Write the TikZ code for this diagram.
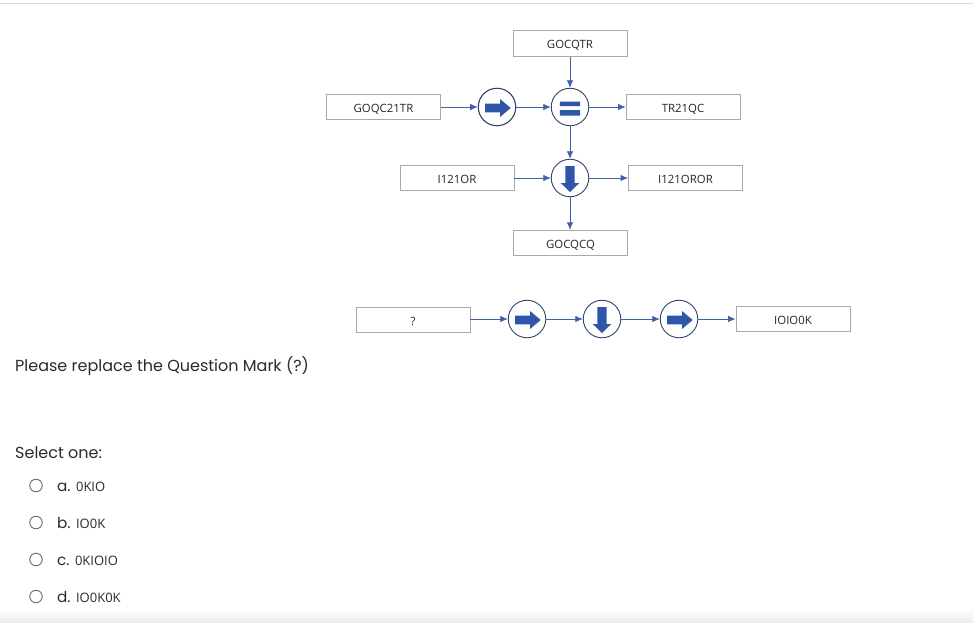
\documentclass[tikz,border=0pt]{standalone}
\usepackage{fontspec}
\setmainfont{Poppins}
\newfontfamily\boxfont{Open Sans}
\usetikzlibrary{arrows.meta}
\definecolor{flow}{HTML}{3F62A8}
\definecolor{icon}{HTML}{2F55A8}
\definecolor{boxline}{HTML}{A9A9A9}
\definecolor{ringline}{HTML}{2F4468}
\definecolor{qtext}{HTML}{2B2B2B}
\tikzset{
  x=1pt,y=-1pt,
  labelbox/.style={draw=boxline,line width=0.7pt,fill=white,minimum width=114pt,minimum height=25.5pt,inner sep=0pt,text height=10.5pt,text depth=0pt,text=black!85,font=\boxfont\fontsize{11.4pt}{13pt}\selectfont},
  ring/.style={circle,draw=ringline,line width=0.9pt,fill=white,minimum size=37.5pt,inner sep=0pt},
  flowline/.style={draw=flow,line width=0.8pt,-{Latex[length=7.5pt,width=6.5pt]}},
  iconfill/.style={fill=icon,draw=none},
  qline/.style={anchor=base west,inner sep=0pt,text=qtext,font=\fontsize{16pt}{19pt}\selectfont},
  optlabel/.style={anchor=base west,inner sep=0pt,text=qtext,font=\fontsize{15.2pt}{18pt}\selectfont},
  radio/.style={circle,draw=black!55,line width=1pt,fill=white,minimum size=12.5pt,inner sep=0pt}
}
\newcommand{\rightsign}[1]{\fill[iconfill,shift={(#1)}] (-12,-3.4) -- (3,-3.4) -- (3,-8) -- (13.7,1) -- (3,10) -- (3,5.4) -- (-12,5.4) -- cycle;}
\newcommand{\downsign}[1]{\fill[iconfill,shift={(#1)}] (-4.7,-12) -- (4.7,-12) -- (4.7,5) -- (9.3,5) -- (0,14) -- (-9.3,5) -- (-4.7,5) -- cycle;}
\newcommand{\equalsign}[1]{\fill[iconfill,shift={(#1)}] (-10.2,-5.5) rectangle (10.2,-1) (-10.2,3) rectangle (10.2,8.5);}
\newcommand{\optvalue}[1]{{\boxfont\fontsize{13pt}{15pt}\selectfont #1}}
\begin{document}
\begin{tikzpicture}
\useasboundingbox (0,0) rectangle (973,622);
\fill[white] (0,0) rectangle (973,622);
\fill[black!14] (0,2.7) rectangle (973,4);
\shade[top color=white,bottom color=black!7] (0,608) rectangle (973,622);

\node[labelbox] (top) at (570,43.5) {GOCQTR};
\node[labelbox] (left1) at (383.5,107) {GOQC21TR};
\node[labelbox] (right1) at (683,107) {TR21QC};
\node[labelbox] (left2) at (457,178) {I121OR};
\node[labelbox] (right2) at (685.5,178) {I121OROR};
\node[labelbox] (bottom) at (570.5,243) {GOCQCQ};
\node[labelbox] (unknown) at (413,320) {?};
\node[labelbox] (result) at (793,319) {IOIO0K};

\node[ring,line width=1.1pt] (opA) at (497,107) {};
\node[ring] (opB) at (570,107) {};
\node[ring] (opC) at (570,178) {};
\node[ring] (opD) at (527,319) {};
\node[ring] (opE) at (602,319) {};
\node[ring] (opF) at (679,319) {};

\rightsign{opA}
\equalsign{opB}
\downsign{opC}
\rightsign{opD}
\downsign{opE}
\rightsign{opF}

\draw[flowline] (top) -- (opB);
\draw[flowline] (left1) -- (opA);
\draw[flowline] (opA) -- (opB);
\draw[flowline] (opB) -- (right1);
\draw[flowline] (opB) -- (opC);
\draw[flowline] (left2) -- (opC);
\draw[flowline] (opC) -- (right2);
\draw[flowline] (opC) -- (opC |- bottom.north);
\draw[flowline] (unknown.east |- opD) -- (opD.west);
\draw[flowline] (opD) -- (opE);
\draw[flowline] (opE) -- (opF);
\draw[flowline] (opF) -- (result);

\node[qline] (question) at (15,371.5) {Please replace the Question Mark (?)};
\node[qline] (select) at (15,458.5) {Select one:};

\node[radio] (ra) at (36,485.5) {};
\node[radio] (rb) at (36,522.5) {};
\node[radio] (rc) at (36,559.5) {};
\node[radio] (rd) at (36,596.5) {};
\node[optlabel] (oa) at (57,491) {a. \optvalue{0KIO}};
\node[optlabel] (ob) at (57,528) {b. \optvalue{IO0K}};
\node[optlabel] (oc) at (57,565) {c. \optvalue{0KIOIO}};
\node[optlabel] (od) at (57,602) {d. \optvalue{IO0K0K}};
\end{tikzpicture}
\end{document}
